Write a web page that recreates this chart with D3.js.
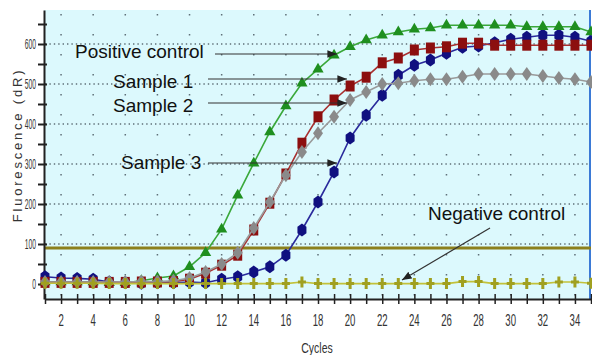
<!DOCTYPE html>
<html>
<head>
<meta charset="utf-8">
<script src="https://cdn.jsdelivr.net/npm/d3@7"></script>
<style>
  body { margin: 0; background: #fff; }
  text { font-family: "Liberation Sans", Arial, sans-serif; }
</style>
</head>
<body>
<div id="chart"></div>
<script>
// cycles 1..35
var cycles = d3.range(1, 36);

// fluorescence (dR) per cycle
var positive = [5, 5, 5, 5, 3, 3, 8, 15, 20, 43, 78, 137, 222, 302, 380, 445, 502, 537, 572, 593,
  610, 622, 630, 637, 640, 647, 647, 647, 647, 647, 643, 643, 643, 643, 630];
var sample1 = [4, 4, 4, 4, 4, 4, 5, 5, 6, 12, 27, 47, 72, 135, 202, 275, 352, 418, 460, 495,
  517, 553, 565, 585, 590, 593, 602, 602, 597, 597, 597, 597, 597, 597, 597];
var sample2 = [5, 5, 5, 5, 5, 5, 6, 6, 8, 15, 30, 50, 78, 140, 205, 272, 330, 377, 418, 460,
  480, 500, 502, 508, 512, 512, 518, 525, 525, 525, 525, 520, 515, 512, 505];
var sample3 = [18, 15, 14, 12, 5, 3, 2, 3, 3, 5, 3, 12, 18, 30, 43, 72, 135, 205, 280, 365,
  422, 472, 522, 547, 560, 577, 592, 595, 603, 612, 617, 622, 622, 617, 607];
var negative = [2, 2, 2, 2, 1, 1, 1, 1, 1, 1, 1, 1, 1, 1, 1, 1, 5, 1, 1, 1,
  1, 1, 1, 1, 1, 1, 6, 6, 1, 1, 1, 1, 5, 5, 2];
var threshold = 90;

var yTickLabels = [0, 100, 200, 300, 400, 500, 600];
var yMinorTicks = d3.range(0, 700, 50);
var xTickLabels = d3.range(2, 36, 2);

var notes = [
  { text: "Positive control", tx: 75, ty: 58, x1: 215, y1: 54, x2: 337, y2: 54 },
  { text: "Sample 1", tx: 113, ty: 88, x1: 208, y1: 79, x2: 347, y2: 79 },
  { text: "Sample 2", tx: 113, ty: 112, x1: 208, y1: 103, x2: 347, y2: 103 },
  { text: "Sample 3", tx: 121, ty: 169, x1: 208, y1: 163, x2: 337, y2: 163 },
  { text: "Negative control", tx: 428, ty: 220, x1: 490, y1: 228, x2: 402, y2: 280 }
];

var svgWidth = 592;
var svgHeight = 355;

var svg = d3.select("#chart")
  .append("svg")
  .attr("width", svgWidth)
  .attr("height", svgHeight);

// scales
var xScale = d3.scaleLinear().domain([1, 35]).range([45, 591]);
var yScale = d3.scaleLinear().domain([-37.5, 685]).range([299, 10]);

// plot background
svg.append("rect")
  .attr("x", 44).attr("y", 10)
  .attr("width", 547).attr("height", 289)
  .attr("fill", "#dcf9fd");

// grid: dense dotted horizontals at 100s, sparse dotted verticals at even cycles
svg.append("g").selectAll("line")
  .data(yTickLabels.slice(1))
  .enter().append("line")
  .attr("x1", 45).attr("x2", 590)
  .attr("y1", d => yScale(d)).attr("y2", d => yScale(d))
  .attr("stroke", "#5f7078")
  .attr("stroke-width", 1.4)
  .attr("stroke-dasharray", "1.4,3");

svg.append("g").selectAll("line")
  .data(xTickLabels)
  .enter().append("line")
  .attr("x1", d => xScale(d)).attr("x2", d => xScale(d))
  .attr("y1", 14).attr("y2", 298)
  .attr("stroke", "#5f7078")
  .attr("stroke-width", 1.5)
  .attr("stroke-dasharray", "1.5,18.5");

// right border
svg.append("line")
  .attr("x1", 590).attr("x2", 590).attr("y1", 10).attr("y2", 299)
  .attr("stroke", "#3b7ad6").attr("stroke-width", 2);

// threshold
svg.append("line")
  .attr("x1", 44).attr("x2", 591)
  .attr("y1", yScale(threshold)).attr("y2", yScale(threshold))
  .attr("stroke", "#8c801c").attr("stroke-width", 3);

// axes
var leftAxis = d3.axisLeft(yScale).tickValues(yMinorTicks).tickSize(0).tickFormat("");
var yAxisG = svg.append("g").attr("transform", "translate(44,0)").call(leftAxis);
yAxisG.select(".domain").attr("stroke", "#222").attr("stroke-width", 2);
yAxisG.selectAll(".tick line").attr("x1", -6).attr("x2", 3).attr("stroke", "#222").attr("stroke-width", 2);

svg.append("g").selectAll("text")
  .data(yTickLabels)
  .enter().append("text")
  .attr("transform", d => `translate(36,${yScale(d) + 5}) scale(0.45,1)`)
  .attr("text-anchor", "end")
  .attr("font-size", 15)
  .attr("fill", "#333")
  .text(d => d);

var bottomAxis = d3.axisBottom(xScale).tickValues(cycles).tickSize(0).tickFormat("");
var xAxisG = svg.append("g").attr("transform", "translate(0,299)").call(bottomAxis);
xAxisG.select(".domain").attr("stroke", "#222").attr("stroke-width", 2);
xAxisG.selectAll(".tick line").attr("y1", -5).attr("y2", 5).attr("stroke", "#222").attr("stroke-width", 1.5);

svg.append("g").selectAll("text")
  .data(xTickLabels)
  .enter().append("text")
  .attr("transform", d => `translate(${xScale(d)},326) scale(0.6,1)`)
  .attr("text-anchor", "middle")
  .attr("font-size", 16)
  .attr("fill", "#333")
  .text(d => d);

// axis titles
svg.append("text")
  .attr("transform", "translate(317,353) scale(0.7,1)")
  .attr("text-anchor", "middle")
  .attr("font-size", 15)
  .attr("fill", "#333")
  .text("Cycles");

svg.append("text")
  .attr("transform", "translate(22,145) rotate(-90)")
  .attr("text-anchor", "middle")
  .attr("font-size", 13)
  .attr("letter-spacing", 2.8)
  .attr("fill", "#333")
  .text("Fluorescence (dR)");

// series
var line = d3.line()
  .x((d, i) => xScale(cycles[i]))
  .y(d => yScale(d));

var tri = d3.symbol().type(d3.symbolTriangle).size(55)();
var sq = "M-4.5,-5.5H4.5V5.5H-4.5Z";
var dia = "M0,-7L5,0L0,7L-5,0Z";
var hex = "M0,-6.5L4.5,-3.2L4.5,3.2L0,6.5L-4.5,3.2L-4.5,-3.2Z";
var plus = "M-1.5,-5.5H1.5V-1.5H4V1.5H1.5V5.5H-1.5V1.5H-4V-1.5H-1.5Z";

var series = [
  { values: sample3, stroke: "#2a2a9c", fill: "#101080", shape: hex },
  { values: positive, stroke: "#3aa83a", fill: "#1f8f1f", shape: tri },
  { values: sample1, stroke: "#a83030", fill: "#8c0f0f", shape: sq },
  { values: sample2, stroke: "#9a9a9a", fill: "#8a8a8a", shape: dia },
  { values: negative, stroke: "#c2c23a", fill: "#a0a020", shape: plus }
];

series.forEach(function(s) {
  var g = svg.append("g");
  g.append("path")
    .attr("d", line(s.values))
    .attr("fill", "none")
    .attr("stroke", s.stroke)
    .attr("stroke-width", 1.6);
  g.selectAll("path.mk")
    .data(s.values)
    .enter().append("path")
    .attr("class", "mk")
    .attr("d", s.shape)
    .attr("transform", (d, i) => `translate(${xScale(cycles[i])},${yScale(d)})`)
    .attr("fill", s.fill);
});

// annotations
svg.append("defs").append("marker")
  .attr("id", "arrow")
  .attr("viewBox", "0 0 10 10")
  .attr("refX", 10).attr("refY", 5)
  .attr("markerWidth", 8).attr("markerHeight", 8)
  .attr("orient", "auto")
  .append("path")
  .attr("d", "M0,1L10,5L0,9Z")
  .attr("fill", "#222");

var noteG = svg.append("g");
noteG.selectAll("line")
  .data(notes)
  .enter().append("line")
  .attr("x1", d => d.x1).attr("y1", d => d.y1)
  .attr("x2", d => d.x2).attr("y2", d => d.y2)
  .attr("stroke", "#333")
  .attr("stroke-width", 1.2)
  .attr("marker-end", "url(#arrow)");

noteG.selectAll("text")
  .data(notes)
  .enter().append("text")
  .attr("x", d => d.tx).attr("y", d => d.ty)
  .attr("font-size", 19)
  .attr("fill", "#111")
  .text(d => d.text);
</script>
</body>
</html>
